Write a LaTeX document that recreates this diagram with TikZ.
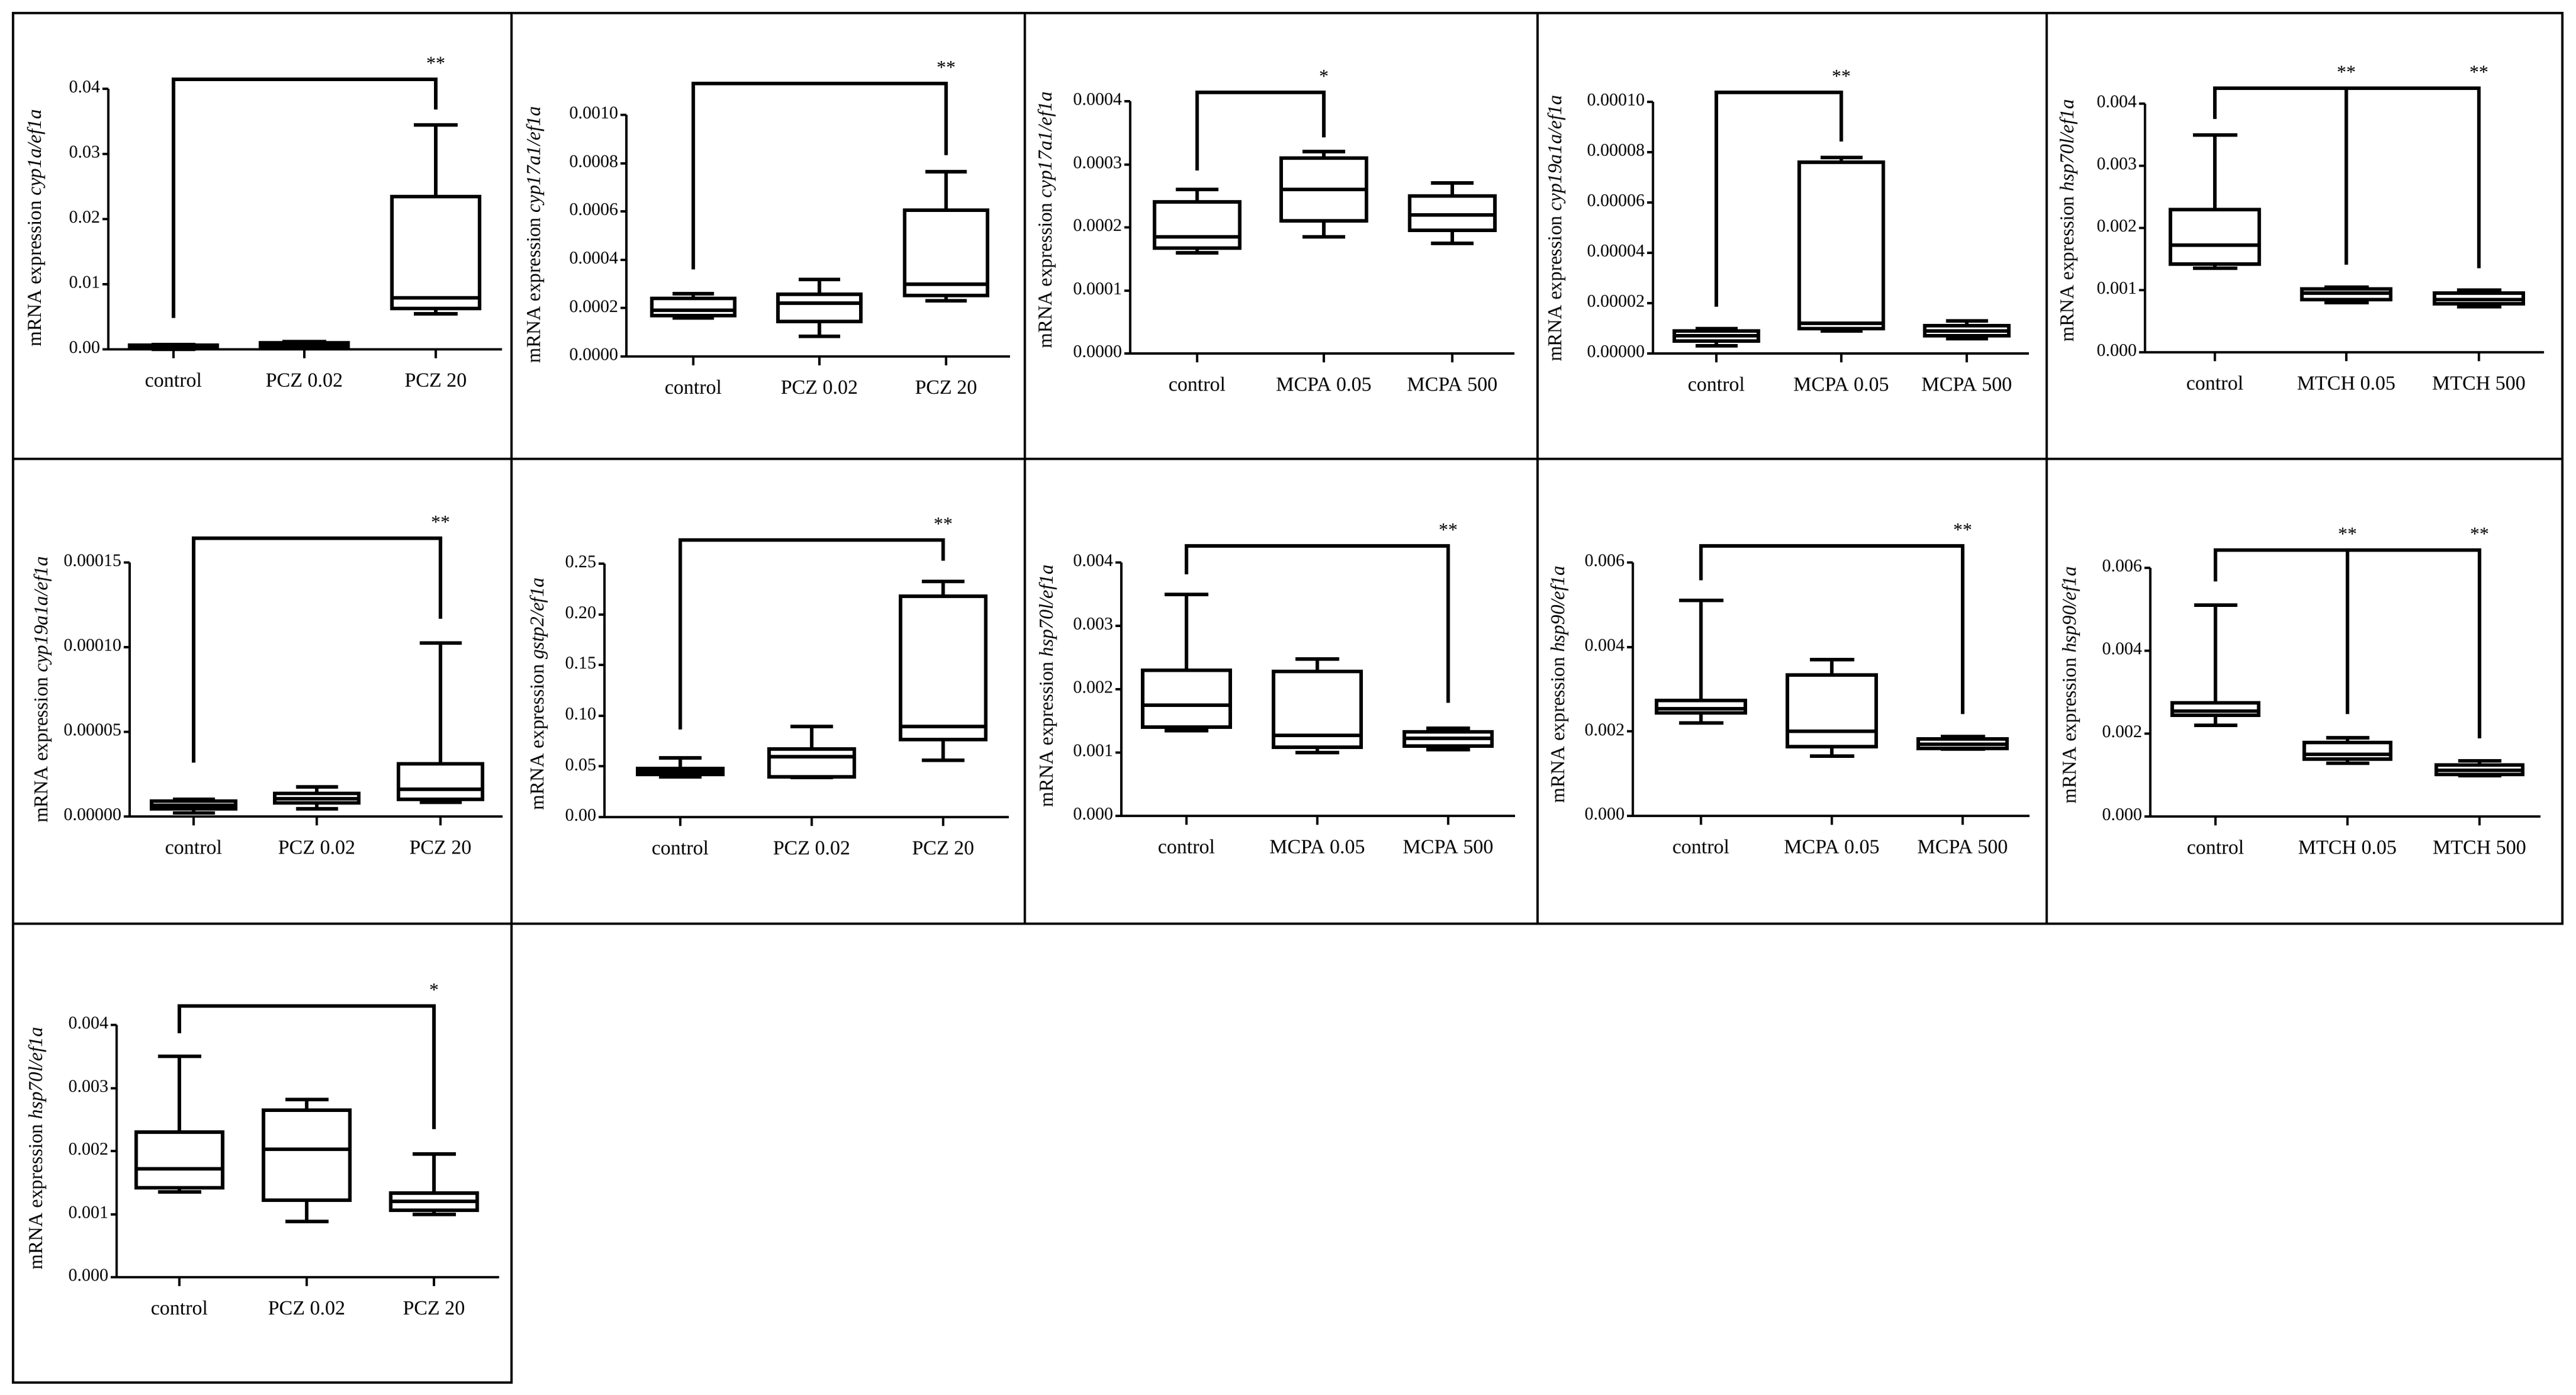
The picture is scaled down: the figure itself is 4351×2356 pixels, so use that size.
\documentclass[tikz,border=0pt]{standalone}
\usepackage{fontspec}
\setmainfont{Liberation Serif}
\tikzset{
 boxl/.style={line width=1.5pt},
 axl/.style={line width=1pt},
 brl/.style={line width=1.5pt},
 cell/.style={line width=0.8pt},
 ticklab/.style={anchor=east,inner sep=0pt,font=\fontsize{7.5}{8}\selectfont},
 catlab/.style={anchor=center,inner sep=0pt,font=\fontsize{8.5}{9}\selectfont},
 ylab/.style={rotate=90,anchor=center,inner sep=0pt,font=\fontsize{8.3}{9}\selectfont},
 star/.style={anchor=center,inner sep=0pt,font=\fontsize{8}{9}\selectfont}
}
\newcommand\setp[5]{\def\AX{#1}\def\YZ{#2}\def\YU{#3}\def\XR{#4}\def\HW{#5}}
\newcommand\axes[1]{% top value
 \draw[axl] (\AX,\YZ) -- (\AX,{\YZ-#1*\YU});
 \draw[axl] (\AX-10,\YZ) -- (\XR,\YZ);}
\newcommand\yt[2]{\draw[axl] (\AX-10,{\YZ-#1*\YU}) -- (\AX,{\YZ-#1*\YU});
 \node[ticklab] at (\AX-13,{\YZ-#1*\YU-3}) {#2};}
\newcommand\cat[2]{\draw[axl] (#1,\YZ) -- (#1,\YZ+15);
 \node[catlab] at (#1,\YZ+52) {#2};}
\newcommand\bx[6]{%
 \draw[boxl] (#1-\HW,{\YZ-#3*\YU}) rectangle (#1+\HW,{\YZ-#5*\YU});
 \draw[boxl] (#1-\HW,{\YZ-#4*\YU}) -- (#1+\HW,{\YZ-#4*\YU});
 \draw[boxl] (#1,{\YZ-#5*\YU}) -- (#1,{\YZ-#6*\YU});
 \draw[boxl] (#1-0.5*\HW,{\YZ-#6*\YU}) -- (#1+0.5*\HW,{\YZ-#6*\YU});
 \draw[boxl] (#1,{\YZ-#3*\YU}) -- (#1,{\YZ-#2*\YU});
 \draw[boxl] (#1-0.5*\HW,{\YZ-#2*\YU}) -- (#1+0.5*\HW,{\YZ-#2*\YU});}
\newcommand\br[6]{% ybar x1 y1 x2 y2 stars
 \draw[brl] (#2,#3) -- (#2,#1) -- (#4,#1) -- (#4,#5);
 \node[star] at (#4,#1-27) {#6};}
\begin{document}
\begin{tikzpicture}[x=0.25pt,y=-0.25pt]
\useasboundingbox (0,0) rectangle (4351,2356);
\fill[white] (0,0) rectangle (4351,2356);
% grid
\draw[cell] (22,22) rectangle (4328,1560);
\draw[cell] (22,775) -- (4328,775);
\foreach \x in {864,1731,2597,3457} \draw[cell] (\x,22) -- (\x,1560);
\draw[cell] (22,1560) rectangle (864,2335);

% ---- Panel 1
\setp{183}{590}{110}{848}{74}
\axes{4}
\yt{0}{0.00}\yt{1}{0.01}\yt{2}{0.02}\yt{3}{0.03}\yt{4}{0.04}
\cat{293}{control}\cat{514}{PCZ 0.02}\cat{736}{PCZ 20}
\bx{293}{0}{0.02}{0.03}{0.06}{0.07}
\bx{514}{0.03}{0.05}{0.07}{0.1}{0.12}
\bx{736}{0.55}{0.63}{0.79}{2.35}{3.45}
\br{134}{293}{537}{736}{185}{**}
\node[ylab] at (61,385) {mRNA expression \textit{cyp1a/ef1a}};

% ---- Panel 2
\setp{1058}{602}{81.6}{1706}{70}
\axes{5}
\yt{0}{0.0000}\yt{1}{0.0002}\yt{2}{0.0004}\yt{3}{0.0006}\yt{4}{0.0008}\yt{5}{0.0010}
\cat{1171}{control}\cat{1384}{PCZ 0.02}\cat{1598}{PCZ 20}
\bx{1171}{0.8}{0.85}{0.95}{1.2}{1.3}
\bx{1384}{0.42}{0.72}{1.1}{1.29}{1.59}
\bx{1598}{1.15}{1.26}{1.5}{3.03}{3.82}
\br{141}{1171}{455}{1598}{262}{**}
\node[ylab] at (904,397) {mRNA expression \textit{cyp17a1/ef1a}};

% ---- Panel 3
\setp{1909}{597}{106.5}{2558}{72}
\axes{4}
\yt{0}{0.0000}\yt{1}{0.0001}\yt{2}{0.0002}\yt{3}{0.0003}\yt{4}{0.0004}
\cat{2022}{control}\cat{2236}{MCPA 0.05}\cat{2453}{MCPA 500}
\bx{2022}{1.6}{1.67}{1.85}{2.4}{2.6}
\bx{2236}{1.85}{2.1}{2.6}{3.1}{3.2}
\bx{2453}{1.75}{1.95}{2.2}{2.5}{2.7}
\br{156}{2022}{288}{2236}{232}{*}
\node[ylab] at (1768,372) {mRNA expression \textit{cyp17a1/ef1a}};

% ---- Panel 4
\setp{2792}{597}{85}{3427}{71}
\axes{5}
\yt{0}{0.00000}\yt{1}{0.00002}\yt{2}{0.00004}\yt{3}{0.00006}\yt{4}{0.00008}\yt{5}{0.00010}
\cat{2899}{control}\cat{3110}{MCPA 0.05}\cat{3322}{MCPA 500}
\bx{2899}{0.15}{0.25}{0.35}{0.45}{0.5}
\bx{3110}{0.45}{0.5}{0.6}{3.8}{3.9}
\bx{3322}{0.3}{0.35}{0.45}{0.55}{0.65}
\br{156}{2899}{518}{3110}{239}{**}
\node[ylab] at (2629,386) {mRNA expression \textit{cyp19a1a/ef1a}};

% ---- Panel 5
\setp{3623}{595}{105}{4297}{75}
\axes{4}
\yt{0}{0.000}\yt{1}{0.001}\yt{2}{0.002}\yt{3}{0.003}\yt{4}{0.004}
\cat{3741}{control}\cat{3963}{MTCH 0.05}\cat{4187}{MTCH 500}
\bx{3741}{1.35}{1.42}{1.72}{2.3}{3.5}
\bx{3963}{0.8}{0.85}{0.95}{1.02}{1.05}
\bx{4187}{0.73}{0.78}{0.85}{0.95}{1.0}
\draw[brl] (3741,201) -- (3741,149) -- (4187,149) -- (4187,453);
\draw[brl] (3963,149) -- (3963,447);
\node[star] at (3963,122) {**};\node[star] at (4187,122) {**};
\node[ylab] at (3494,373) {mRNA expression \textit{hsp70l/ef1a}};

% ---- Panel 6
\setp{219}{1379}{143}{849}{71}
\axes{3}
\yt{0}{0.00000}\yt{1}{0.00005}\yt{2}{0.00010}\yt{3}{0.00015}
\cat{327}{control}\cat{535}{PCZ 0.02}\cat{744}{PCZ 20}
\bx{327}{0.04}{0.09}{0.13}{0.18}{0.2}
\bx{535}{0.09}{0.16}{0.21}{0.27}{0.35}
\bx{744}{0.17}{0.2}{0.32}{0.62}{2.05}
\br{909}{327}{1288}{744}{1045}{**}
\node[ylab] at (72,1165) {mRNA expression \textit{cyp19a1a/ef1a}};

% ---- Panel 7
\setp{1021}{1380}{85.6}{1704}{72}
\axes{5}
\yt{0}{0.00}\yt{1}{0.05}\yt{2}{0.10}\yt{3}{0.15}\yt{4}{0.20}\yt{5}{0.25}
\cat{1149}{control}\cat{1371}{PCZ 0.02}\cat{1593}{PCZ 20}
\bx{1149}{0.8}{0.84}{0.9}{0.96}{1.17}
\bx{1371}{0.78}{0.8}{1.19}{1.34}{1.79}
\bx{1593}{1.12}{1.53}{1.79}{4.36}{4.65}
\br{912}{1149}{1232}{1593}{947}{**}
\node[ylab] at (910,1172) {mRNA expression \textit{gstp2/ef1a}};

% ---- Panel 8
\setp{1894}{1378}{107}{2559}{74}
\axes{4}
\yt{0}{0.000}\yt{1}{0.001}\yt{2}{0.002}\yt{3}{0.003}\yt{4}{0.004}
\cat{2004}{control}\cat{2225}{MCPA 0.05}\cat{2446}{MCPA 500}
\bx{2004}{1.35}{1.4}{1.75}{2.3}{3.5}
\bx{2225}{1.0}{1.08}{1.27}{2.28}{2.48}
\bx{2446}{1.05}{1.1}{1.22}{1.33}{1.38}
\br{922}{2004}{970}{2446}{1187}{**}
\node[ylab] at (1770,1159) {mRNA expression \textit{hsp70l/ef1a}};

% ---- Panel 9
\setp{2758}{1378}{142.7}{3428}{75}
\axes{3}
\yt{0}{0.000}\yt{1}{0.002}\yt{2}{0.004}\yt{3}{0.006}
\cat{2873}{control}\cat{3094}{MCPA 0.05}\cat{3315}{MCPA 500}
\bx{2873}{1.1}{1.22}{1.27}{1.37}{2.55}
\bx{3094}{0.71}{0.82}{1.0}{1.67}{1.85}
\bx{3315}{0.79}{0.8}{0.85}{0.91}{0.94}
\br{922}{2873}{980}{3315}{1206}{**}
\node[ylab] at (2634,1156) {mRNA expression \textit{hsp90/ef1a}};

% ---- Panel 10
\setp{3632}{1379}{140}{4291}{73}
\axes{3}
\yt{0}{0.000}\yt{1}{0.002}\yt{2}{0.004}\yt{3}{0.006}
\cat{3742}{control}\cat{3965}{MTCH 0.05}\cat{4188}{MTCH 500}
\bx{3742}{1.1}{1.22}{1.27}{1.37}{2.55}
\bx{3965}{0.64}{0.69}{0.75}{0.89}{0.95}
\bx{4188}{0.49}{0.51}{0.56}{0.62}{0.67}
\draw[brl] (3742,982) -- (3742,929) -- (4188,929) -- (4188,1247);
\draw[brl] (3965,929) -- (3965,1206);
\node[star] at (3965,902) {**};\node[star] at (4188,902) {**};
\node[ylab] at (3498,1157) {mRNA expression \textit{hsp90/ef1a}};

% ---- Panel 11
\setp{197}{2157}{106.5}{843}{73}
\axes{4}
\yt{0}{0.000}\yt{1}{0.001}\yt{2}{0.002}\yt{3}{0.003}\yt{4}{0.004}
\cat{303}{control}\cat{518}{PCZ 0.02}\cat{733}{PCZ 20}
\bx{303}{1.35}{1.42}{1.72}{2.3}{3.5}
\bx{518}{0.88}{1.22}{2.03}{2.65}{2.82}
\bx{733}{1.0}{1.06}{1.2}{1.33}{1.95}
\br{1699}{303}{1745}{733}{1907}{*}
\node[ylab] at (63,1940) {mRNA expression \textit{hsp70l/ef1a}};
\end{tikzpicture}
\end{document}
